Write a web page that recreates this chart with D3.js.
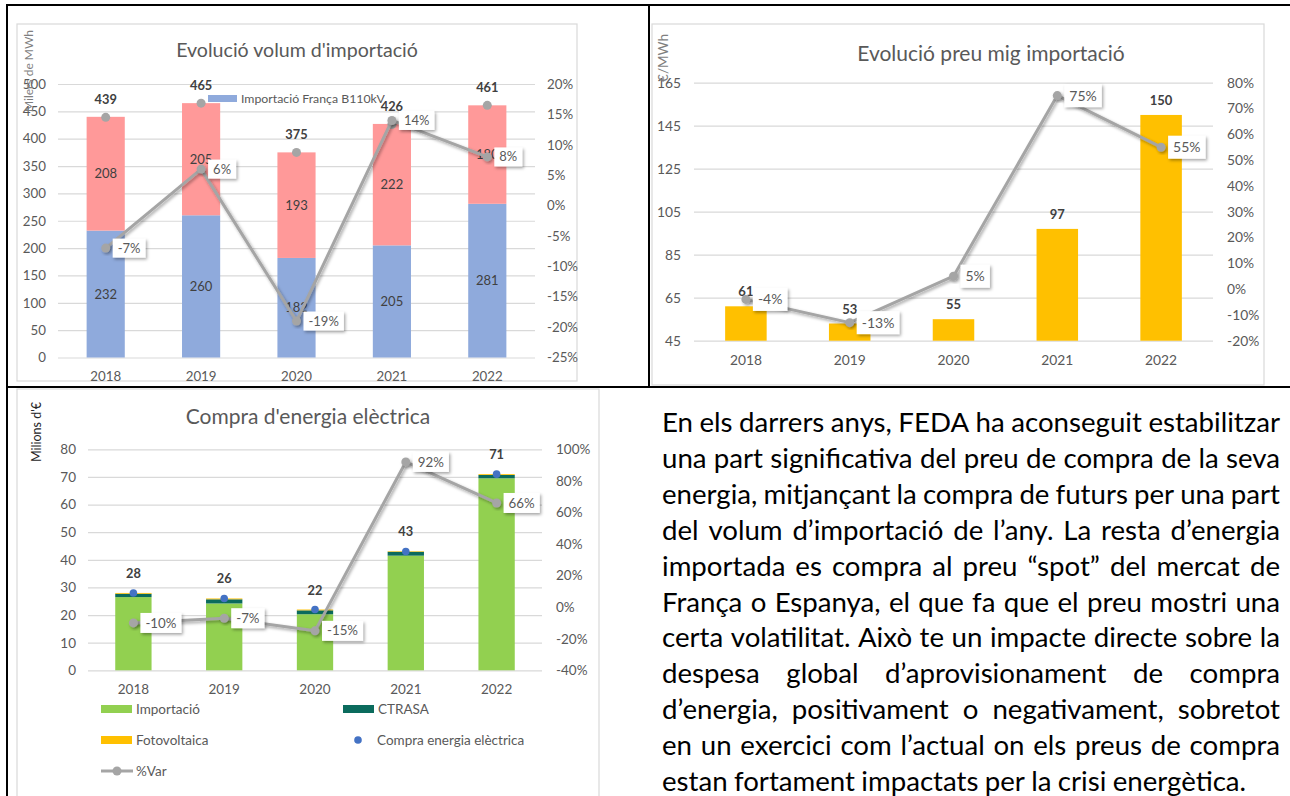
<!DOCTYPE html>
<html><head><meta charset="utf-8">
<script src="https://cdn.jsdelivr.net/npm/d3@7"></script>
<style>body{margin:0;background:#fff;} svg{display:block;font-family:Lato,'Noto Sans',sans-serif;}</style>
</head><body>
<svg id="c" width="1290" height="796"></svg>
<script>
// ---------- DATA ----------
const years = ["2018", "2019", "2020", "2021", "2022"];

// Chart 1: Evolució volum d'importació (milers de MWh)
const volFranca = [232, 260, 182, 205, 281];
const volAltres = [208, 205, 193, 222, 180];
const volTotal = [439, 465, 375, 426, 461];
const volVar = [-7, 6, -19, 14, 8];
const volTicks = [0, 50, 100, 150, 200, 250, 300, 350, 400, 450, 500];
const volVarTicks = [-25, -20, -15, -10, -5, 0, 5, 10, 15, 20];

// Chart 2: Evolució preu mig importació (€/MWh)
const preuMig = [61, 53, 55, 97, 150];
const preuVar = [-4, -13, 5, 75, 55];
const preuTicks = [45, 65, 85, 105, 125, 145, 165];
const preuVarTicks = [-20, -10, 0, 10, 20, 30, 40, 50, 60, 70, 80];

// Chart 3: Compra d'energia elèctrica (milions d'€)
const compraImportacio = [26.5, 24.2, 20.3, 41.5, 69.5];
const compraCtrasa = [1.2, 1.5, 1.4, 1.4, 1.2];
const compraFoto = [0.3, 0.3, 0.3, 0.2, 0.3];
const compraTotal = [28, 26, 22, 43, 71];
const compraVar = [-10, -7, -15, 92, 66];
const compraTicks = [0, 10, 20, 30, 40, 50, 60, 70, 80];
const compraVarTicks = [-40, -20, 0, 20, 40, 60, 80, 100];

const paragraph = [
  "En els darrers anys, FEDA ha aconseguit estabilitzar",
  "una part significativa del preu de compra de la seva",
  "energia, mitjançant la compra de futurs per una part",
  "del volum d’importació de l’any. La resta d’energia",
  "importada es compra al preu “spot” del mercat de",
  "França o Espanya, el que fa que el preu mostri una",
  "certa volatilitat. Això te un impacte directe sobre la",
  "despesa global d’aprovisionament de compra",
  "d’energia, positivament o negativament, sobretot",
  "en un exercici com l’actual on els preus de compra",
  "estan fortament impactats per la crisi energètica."
];

// ---------- DRAW ----------
const svg = d3.select("#c");
const defs = svg.append("defs");
const sh = defs.append("filter").attr("id", "sh").attr("x", "-30%").attr("y", "-30%").attr("width", "160%").attr("height", "160%");
sh.append("feDropShadow").attr("dx", 1.5).attr("dy", 1.8).attr("stdDeviation", 1.4).attr("flood-color", "#000").attr("flood-opacity", 0.35);

const GRID = "#d9d9d9", TXT = "#595959", DARK = "#404040", LINE = "#a5a5a5";

function setupChart(o) {
  const g = svg.append("g");
  g.append("rect").attr("x", o.frame[0]).attr("y", o.frame[1]).attr("width", o.frame[2]).attr("height", o.frame[3])
    .attr("fill", "#fff").attr("stroke", GRID).attr("stroke-width", 1.2);
  const x = d3.scaleBand().domain(years).range([o.left, o.right]).paddingInner(0.6).paddingOuter(0.3);
  const y = d3.scaleLinear().domain(d3.extent(o.leftTicks)).range([o.bottom, o.top]);
  const y2 = d3.scaleLinear().domain(d3.extent(o.rightTicks)).range([o.bottom, o.top]);
  // grid
  g.append("g").attr("transform", `translate(${o.left},0)`)
    .call(d3.axisLeft(y).tickValues(o.leftTicks).tickSize(-(o.right - o.left)).tickFormat(""))
    .call(s => { s.select(".domain").remove(); s.selectAll("line").attr("stroke", GRID).attr("stroke-width", 1.2); });
  // left labels
  g.append("g").attr("transform", `translate(${o.left},0)`)
    .call(d3.axisLeft(y).tickValues(o.leftTicks).tickSize(0).tickPadding(o.padL))
    .call(s => { s.select(".domain").remove(); s.attr("font-family", null).attr("font-size", o.fs);
      s.selectAll("text").attr("fill", TXT); });
  // right labels
  g.append("g").attr("transform", `translate(${o.right},0)`)
    .call(d3.axisRight(y2).tickValues(o.rightTicks).tickSize(0).tickPadding(o.padR).tickFormat(d => d + "%"))
    .call(s => { s.select(".domain").remove(); s.attr("font-family", null).attr("font-size", o.fs);
      s.selectAll("text").attr("fill", TXT); });
  // x labels
  g.append("g").attr("transform", `translate(0,${o.bottom})`)
    .call(d3.axisBottom(x).tickSize(0).tickPadding(o.padX))
    .call(s => { s.select(".domain").remove(); s.attr("font-family", null).attr("font-size", o.fs);
      s.selectAll("text").attr("fill", TXT); });
  // title
  g.append("text").attr("x", o.titleX).attr("y", o.titleY).attr("text-anchor", "middle")
    .attr("font-size", o.titleFs).attr("fill", TXT).text(o.title);
  // y axis title
  g.append("text").attr("transform", `translate(${o.yLabel[0]},${o.yLabel[1]}) rotate(-90)`)
    .attr("text-anchor", "middle").attr("font-size", o.yLabel[3]).attr("fill", o.yLabel[4]).text(o.yLabel[2]);
  return { g, x, y, y2 };
}

function varLine(c, vals, fs, boxH) {
  const cx = d => c.x(d) + c.x.bandwidth() / 2;
  const pts = years.map((d, i) => [cx(d), c.y2(vals[i])]);
  c.g.append("path").attr("d", d3.line()(pts)).attr("fill", "none").attr("stroke", LINE)
    .attr("stroke-width", 3).attr("stroke-linejoin", "round").attr("filter", "url(#sh)");
  c.g.selectAll(null).data(pts).join("circle").attr("cx", d => d[0]).attr("cy", d => d[1]).attr("r", 4.5)
    .attr("fill", LINE).attr("filter", "url(#sh)");
  pts.forEach((p, i) => {
    const bg = c.g.append("g");
    const r = bg.append("rect").attr("fill", "#fff").attr("filter", "url(#sh)");
    const t = bg.append("text").attr("x", p[0] + 12).attr("y", p[1]).attr("dy", "0.35em")
      .attr("font-size", fs).attr("fill", TXT).text(vals[i] + "%");
    const w = t.node().getComputedTextLength();
    r.attr("x", p[0] + 7).attr("y", p[1] - boxH / 2).attr("width", w + 10).attr("height", boxH);
  });
}

function bold(c, xs, ys, labels, fs) {
  c.g.selectAll(null).data(labels).join("text")
    .attr("x", (d, i) => xs(i)).attr("y", (d, i) => ys(i)).attr("dy", "0.35em")
    .attr("text-anchor", "middle").attr("font-weight", "bold").attr("font-size", fs)
    .attr("fill", DARK).text(d => d);
}

// ---- Chart 1 ----
{
  const c = setupChart({
    frame: [17, 24, 560, 357], left: 58, right: 535, top: 84, bottom: 357.5,
    leftTicks: volTicks, rightTicks: volVarTicks, padL: 12, padR: 12, padX: 14, fs: 13.3,
    title: "Evolució volum d'importació", titleX: 297, titleY: 57, titleFs: 19.6,
    yLabel: [33, 71, "Milers de MWh", 12, "#7f7f7f"]
  });
  const rows = years.map((d, i) => ({ year: d, franca: volFranca[i], altres: volAltres[i] }));
  const stack = d3.stack().keys(["franca", "altres"])(rows);
  const cols = { franca: "#8faadc", altres: "#ff9999" };
  stack.forEach(s => {
    c.g.selectAll(null).data(s).join("rect")
      .attr("x", d => c.x(d.data.year)).attr("width", c.x.bandwidth())
      .attr("y", d => c.y(d[1])).attr("height", d => c.y(d[0]) - c.y(d[1])).attr("fill", cols[s.key]);
  });
  stack.forEach(s => {
    c.g.selectAll(null).data(s).join("text")
      .attr("x", d => c.x(d.data.year) + c.x.bandwidth() / 2).attr("y", d => c.y((d[0] + d[1]) / 2))
      .attr("dy", "0.35em").attr("text-anchor", "middle").attr("font-size", 13).attr("fill", DARK)
      .text(d => d.data[s.key]);
  });
  // legend
  c.g.append("rect").attr("x", 208).attr("y", 95).attr("width", 29).attr("height", 7).attr("fill", "#8faadc");
  c.g.append("text").attr("x", 241).attr("y", 98.5).attr("dy", "0.35em").attr("font-size", 12.3).attr("fill", TXT)
    .text("Importació França B110kV");
  // total markers
  const cx = i => c.x(years[i]) + c.x.bandwidth() / 2;
  c.g.selectAll(null).data(volTotal).join("circle").attr("cx", (d, i) => cx(i)).attr("cy", d => c.y(d))
    .attr("r", 4.5).attr("fill", LINE);
  bold(c, cx, i => c.y(volTotal[i]) - 18, volTotal, 12.8);
  varLine(c, volVar, 13, 19);
}

// ---- Chart 2 ----
{
  const c = setupChart({
    frame: [652, 24, 612, 361], left: 694, right: 1213, top: 82.7, bottom: 340.7,
    leftTicks: preuTicks, rightTicks: preuVarTicks, padL: 13, padR: 14, padX: 15, fs: 13.8,
    title: "Evolució preu mig importació", titleX: 991, titleY: 61, titleFs: 21,
    yLabel: [668, 58, "€/MWh", 13.5, "#7f7f7f"]
  });
  c.g.selectAll(null).data(preuMig).join("rect")
    .attr("x", (d, i) => c.x(years[i])).attr("width", c.x.bandwidth())
    .attr("y", d => c.y(d)).attr("height", d => c.y(45) - c.y(d)).attr("fill", "#ffc000");
  const cx = i => c.x(years[i]) + c.x.bandwidth() / 2;
  bold(c, cx, i => c.y(preuMig[i]) - 14.5, preuMig, 13);
  varLine(c, preuVar, 14, 23);
}

// ---- Chart 3 ----
{
  const c = setupChart({
    frame: [17, 389, 582, 420], left: 88, right: 542, top: 449.3, bottom: 670.3,
    leftTicks: compraTicks, rightTicks: compraVarTicks, padL: 12, padR: 14, padX: 14, fs: 13.5,
    title: "Compra d'energia elèctrica", titleX: 308, titleY: 424, titleFs: 21,
    yLabel: [41, 432, "Milions d'€", 12.5, "#262626"]
  });
  const rows = years.map((d, i) => ({ year: d, imp: compraImportacio[i], ctrasa: compraCtrasa[i], foto: compraFoto[i] }));
  const stack = d3.stack().keys(["imp", "ctrasa", "foto"])(rows);
  const cols = { imp: "#92d050", ctrasa: "#0b6b5d", foto: "#ffc000" };
  stack.forEach(s => {
    c.g.selectAll(null).data(s).join("rect")
      .attr("x", d => c.x(d.data.year)).attr("width", c.x.bandwidth())
      .attr("y", d => c.y(d[1])).attr("height", d => c.y(d[0]) - c.y(d[1])).attr("fill", cols[s.key]);
  });
  const cx = i => c.x(years[i]) + c.x.bandwidth() / 2;
  c.g.selectAll(null).data(compraTotal).join("circle").attr("cx", (d, i) => cx(i)).attr("cy", d => c.y(d))
    .attr("r", 3.8).attr("fill", "#4472c4");
  bold(c, cx, i => c.y(compraTotal[i]) - 19.5, compraTotal, 12.8);
  varLine(c, compraVar, 13.3, 20);
  // legend
  const lg = c.g.append("g").attr("font-size", 13.5).attr("fill", TXT);
  const items = [
    { t: "Importació", k: "rect", col: cols.imp, x: 101, y: 709 },
    { t: "CTRASA", k: "rect", col: cols.ctrasa, x: 343, y: 709 },
    { t: "Fotovoltaica", k: "rect", col: cols.foto, x: 101, y: 740 },
    { t: "Compra energia elèctrica", k: "dot", col: "#4472c4", x: 343, y: 740 },
    { t: "%Var", k: "line", col: LINE, x: 101, y: 771 }
  ];
  items.forEach(it => {
    if (it.k === "rect") lg.append("rect").attr("x", it.x).attr("y", it.y - 4).attr("width", 31).attr("height", 8).attr("fill", it.col);
    if (it.k === "dot") lg.append("circle").attr("cx", it.x + 15).attr("cy", it.y).attr("r", 3.8).attr("fill", it.col);
    if (it.k === "line") {
      lg.append("line").attr("x1", it.x).attr("x2", it.x + 32).attr("y1", it.y).attr("y2", it.y).attr("stroke", it.col).attr("stroke-width", 3);
      lg.append("circle").attr("cx", it.x + 16).attr("cy", it.y).attr("r", 4.5).attr("fill", it.col);
    }
    lg.append("text").attr("x", it.x + (it.k === "dot" ? 34 : 35)).attr("y", it.y).attr("dy", "0.35em").text(it.t);
  });
}

// ---- Paragraph ----
{
  const px0 = 662, px1 = 1280;
  const pg = svg.append("g").attr("fill", "#000");
  const probe = pg.append("text").attr("font-size", 100).text(paragraph[paragraph.length - 1]);
  const fs = 100 * 588 / probe.node().getComputedTextLength();
  probe.remove();
  paragraph.forEach((line, li) => {
    const yb = 432 + li * 35.9;
    const words = line.split(" ");
    const nodes = words.map(w => pg.append("text").attr("font-size", fs).attr("y", yb).text(w));
    const widths = nodes.map(n => n.node().getComputedTextLength());
    const sum = d3.sum(widths);
    const last = li === paragraph.length - 1;
    const gap = last ? fs * 0.23 : (px1 - px0 - sum) / (words.length - 1);
    let xx = px0;
    nodes.forEach((n, i) => { n.attr("x", xx); xx += widths[i] + gap; });
  });
}

// ---- Table borders ----
{
  const b = svg.append("g").attr("stroke", "#000").attr("stroke-width", 2);
  b.append("line").attr("x1", 6).attr("x2", 1290).attr("y1", 5).attr("y2", 5);
  b.append("line").attr("x1", 7).attr("x2", 7).attr("y1", 4).attr("y2", 796);
  b.append("line").attr("x1", 649).attr("x2", 649).attr("y1", 4).attr("y2", 387);
  b.append("line").attr("x1", 6).attr("x2", 1290).attr("y1", 387).attr("y2", 387);
}
</script>
</body></html>
